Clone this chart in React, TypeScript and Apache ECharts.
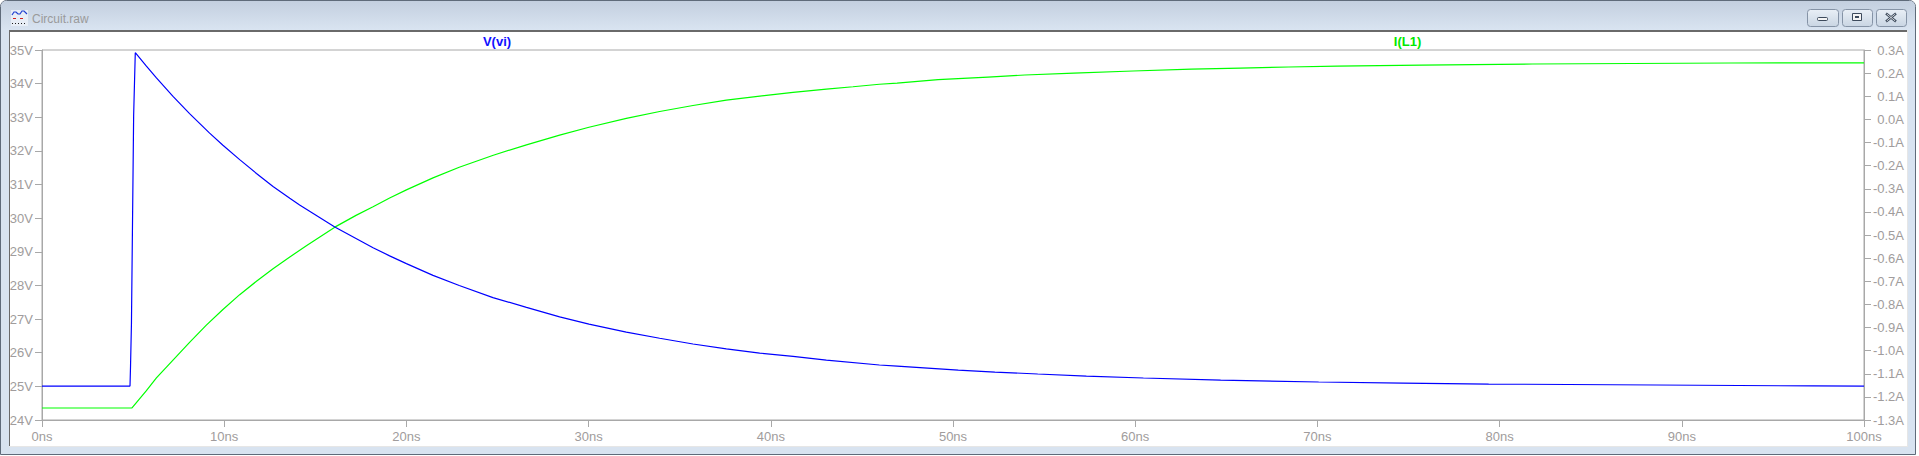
import React, { useEffect, useRef } from "react";
import * as echarts from "echarts";

// ---- data (time in ns) ----
const windowTitle = "Circuit.raw";
const seriesNames = ["V(vi)", "I(L1)"];

const xRange = [0, 100];
const xInterval = 10;
const leftRange = [24, 35];
const leftInterval = 1;
const rightRange = [-1.3, 0.3];
const rightInterval = 0.1;

const vTime = [
  0, 4.83, 4.86, 4.91, 4.97, 5.03, 5.09, 5.12, 5.73, 6.28, 7.19, 8.1, 9.2, 9.93,
  10.85, 11.77, 12.68, 13.6, 14.14, 16.07, 17.26, 18.17, 19.08, 20.0, 21.46,
  22.9, 24.75, 26.59, 28.41, 30.02, 32.07, 33.9, 35.73, 37.56, 39.39, 41.22,
  43.05, 45.96, 46.94, 48.61, 50.29, 52.3, 54.65, 57.32, 60.45, 64.69, 70.07,
  74.7, 79.4, 88.6, 97.2, 100.0,
];
const vValues = [
  25.01, 25.01, 25.62, 26.88, 29.98, 33.06, 34.3, 34.92, 34.52, 34.17, 33.62,
  33.11, 32.53, 32.17, 31.74, 31.33, 30.94, 30.59, 30.39, 29.74, 29.39, 29.12,
  28.88, 28.65, 28.3, 28.0, 27.64, 27.35, 27.065, 26.85, 26.615, 26.43, 26.26,
  26.115, 25.99, 25.89, 25.78, 25.635, 25.604, 25.545, 25.485, 25.426, 25.367,
  25.307, 25.248, 25.188, 25.129, 25.099, 25.069, 25.04, 25.012, 25.005,
];

const iTime = [
  0, 4.94, 5.73, 6.28, 7.19, 8.1, 9.02, 9.93, 10.85, 11.77, 12.68, 13.6, 14.51,
  16.07, 17.26, 18.17, 19.08, 20.0, 21.46, 22.9, 24.77, 26.59, 28.41, 30.02,
  32.07, 33.9, 35.73, 37.56, 40.0, 41.22, 43.05, 44.51, 45.96, 46.93, 49.18,
  51.92, 53.94, 56.63, 59.88, 63.08, 65.77, 68.43, 71.08, 75.7, 81.8, 92.7,
  100.0,
];
const iValues = [
  -1.248, -1.248, -1.173, -1.118, -1.041, -0.964, -0.89, -0.822, -0.758, -0.7,
  -0.646, -0.595, -0.547, -0.466, -0.414, -0.378, -0.34, -0.305, -0.253, -0.207,
  -0.155, -0.11, -0.068, -0.034, 0.004, 0.034, 0.06, 0.083, 0.106, 0.117,
  0.131, 0.141, 0.152, 0.157, 0.1716, 0.1831, 0.1918, 0.2004, 0.2091, 0.2177,
  0.222, 0.2264, 0.2307, 0.235, 0.2394, 0.2437, 0.2445,
];

const AXIS_GRAY = "#a8a8a8";
const LABEL_GRAY = "#a09c9c";
const FONT = "Arial, 'Liberation Sans', sans-serif";

export default function App() {
  const ref = useRef<HTMLDivElement | null>(null);

  useEffect(() => {
    if (!ref.current) return;
    const chart = echarts.init(ref.current, undefined, { renderer: "svg" });

    const vData = vTime.map((t, i) => [t, vValues[i]]);
    const iData = iTime.map((t, i) => [t, iValues[i]]);

    const chrome: any[] = [
      // window frame
      {
        type: "rect",
        z: -10,
        shape: { x: 0.5, y: 0.5, width: 1915, height: 454, r: [6, 6, 0, 0] },
        style: { fill: "#d8e3f0", stroke: "#5f6b7a", lineWidth: 1 },
      },
      // title bar gradient
      {
        type: "rect",
        z: -9,
        shape: { x: 1, y: 1, width: 1914, height: 29, r: [5, 5, 0, 0] },
        style: {
          fill: new echarts.graphic.LinearGradient(0, 0, 0, 1, [
            { offset: 0, color: "#c3cfdf" },
            { offset: 1, color: "#d9e4f1" },
          ]),
        },
      },
      // sunken client area
      {
        type: "rect",
        z: -9,
        shape: { x: 9, y: 30, width: 1899, height: 417 },
        style: { fill: "#e6e6e6" },
      },
      {
        type: "rect",
        z: -8,
        shape: { x: 9, y: 30, width: 1898, height: 416 },
        style: { fill: "#6a6a6a" },
      },
      {
        type: "rect",
        z: -7,
        shape: { x: 10, y: 32, width: 1897, height: 414 },
        style: { fill: "#ffffff" },
      },
      // icon
      {
        type: "rect",
        z: -5,
        shape: { x: 11, y: 10, width: 17, height: 16 },
        style: { fill: "#e8eef6" },
      },
      {
        type: "polyline",
        z: -4,
        shape: {
          points: [
            [12, 15], [14, 12], [16, 12], [18, 14], [20, 14], [22, 11], [24, 11], [27, 14],
          ],
        },
        style: { stroke: "#1f3fd0", lineWidth: 1.2, fill: "none" },
      },
      {
        type: "line",
        z: -4,
        shape: { x1: 13, y1: 18.5, x2: 16, y2: 18.5 },
        style: { stroke: "#d02020", lineWidth: 1 },
      },
      {
        type: "line",
        z: -4,
        shape: { x1: 20, y1: 18.5, x2: 23, y2: 18.5 },
        style: { stroke: "#d02020", lineWidth: 1 },
      },
      {
        type: "line",
        z: -4,
        shape: { x1: 12, y1: 23.5, x2: 27, y2: 23.5 },
        style: { stroke: "#202020", lineWidth: 1, lineDash: [1, 2] },
      },
      // title text
      {
        type: "text",
        z: 5,
        style: {
          text: windowTitle,
          x: 32,
          y: 18.5,
          verticalAlign: "middle",
          align: "left",
          fill: "#9a9a9a",
          font: "12px " + FONT,
        },
      },
    ];

    const buttons = [
      { x: 1807, w: 31 },
      { x: 1842, w: 30 },
      { x: 1876, w: 30 },
    ];
    buttons.forEach((b) => {
      chrome.push({
        type: "rect",
        z: -3,
        shape: { x: b.x + 0.5, y: 9.5, width: b.w, height: 17, r: 3 },
        style: {
          fill: new echarts.graphic.LinearGradient(0, 0, 0, 1, [
            { offset: 0, color: "#e9eff6" },
            { offset: 1, color: "#c9d5e3" },
          ]),
          stroke: "#8593a6",
          lineWidth: 1,
        },
      });
    });
    // minimize glyph
    chrome.push({
      type: "rect",
      z: -2,
      shape: { x: 1817.5, y: 17.5, width: 10, height: 3, r: 1 },
      style: { fill: "#f4f4f4", stroke: "#3d4a5c", lineWidth: 1 },
    });
    // maximize glyph
    chrome.push({
      type: "rect",
      z: -2,
      shape: { x: 1852.5, y: 13.5, width: 9, height: 7 },
      style: { fill: "#f4f4f4", stroke: "#3d4a5c", lineWidth: 1 },
    });
    chrome.push({
      type: "rect",
      z: -1,
      shape: { x: 1855, y: 16, width: 4, height: 2 },
      style: { fill: "#3d4a5c" },
    });
    // close glyph
    chrome.push({
      type: "line",
      z: -2,
      shape: { x1: 1886, y1: 13.5, x2: 1896, y2: 21.5 },
      style: { stroke: "#3d4a5c", lineWidth: 2.4 },
    });
    chrome.push({
      type: "line",
      z: -2,
      shape: { x1: 1896, y1: 13.5, x2: 1886, y2: 21.5 },
      style: { stroke: "#3d4a5c", lineWidth: 2.4 },
    });
    chrome.push({
      type: "line",
      z: -1,
      shape: { x1: 1886.8, y1: 14.1, x2: 1895.2, y2: 20.9 },
      style: { stroke: "#f2f2f2", lineWidth: 0.8 },
    });
    chrome.push({
      type: "line",
      z: -1,
      shape: { x1: 1895.2, y1: 14.1, x2: 1886.8, y2: 20.9 },
      style: { stroke: "#f2f2f2", lineWidth: 0.8 },
    });
    // trace names
    chrome.push({
      type: "text",
      z: 5,
      style: {
        text: seriesNames[0],
        x: 497,
        y: 41,
        align: "center",
        verticalAlign: "middle",
        fill: "#1010ff",
        font: "bold 13px " + FONT,
      },
    });
    chrome.push({
      type: "text",
      z: 5,
      style: {
        text: seriesNames[1],
        x: 1407.5,
        y: 41,
        align: "center",
        verticalAlign: "middle",
        fill: "#00e800",
        font: "bold 13px " + FONT,
      },
    });

    const axisCommon = {
      axisLine: { show: true, onZero: false, lineStyle: { color: AXIS_GRAY, width: 1 } },
      axisTick: { show: true, length: 7, lineStyle: { color: AXIS_GRAY, width: 1 } },
      splitLine: { show: false },
    };

    chart.setOption({
      animation: false,
      backgroundColor: "#ffffff",
      graphic: { elements: chrome },
      grid: {
        left: 42,
        top: 50,
        right: 55,
        bottom: 36,
        show: true,
        borderColor: AXIS_GRAY,
        borderWidth: 1,
        backgroundColor: "transparent",
      },
      xAxis: {
        type: "value",
        min: xRange[0],
        max: xRange[1],
        interval: xInterval,
        ...axisCommon,
        axisLabel: {
          formatter: "{value}ns",
          color: LABEL_GRAY,
          fontSize: 13,
          fontFamily: FONT,
          margin: 10,
        },
      },
      yAxis: [
        {
          type: "value",
          position: "left",
          min: leftRange[0],
          max: leftRange[1],
          interval: leftInterval,
          ...axisCommon,
          axisLabel: {
            formatter: "{value}V",
            color: LABEL_GRAY,
            fontSize: 13,
            fontFamily: FONT,
            margin: 9,
          },
        },
        {
          type: "value",
          position: "right",
          min: rightRange[0],
          max: rightRange[1],
          interval: rightInterval,
          ...axisCommon,
          axisLabel: {
            formatter: (v: number) => (Math.abs(v) < 1e-9 ? 0 : v).toFixed(1) + "A",
            color: LABEL_GRAY,
            fontSize: 13,
            fontFamily: FONT,
            margin: 40,
            align: "right",
          },
        },
      ],
      series: [
        {
          name: seriesNames[0],
          type: "line",
          yAxisIndex: 0,
          data: vData,
          showSymbol: false,
          silent: true,
          lineStyle: { color: "#0000ff", width: 1.2 },
          z: 3,
        },
        {
          name: seriesNames[1],
          type: "line",
          yAxisIndex: 1,
          data: iData,
          showSymbol: false,
          silent: true,
          lineStyle: { color: "#00ff00", width: 1.2 },
          z: 2,
        },
      ],
    });

    return () => {
      chart.dispose();
    };
  }, []);

  return (
    <div
      ref={ref}
      style={{ position: "fixed", left: 0, top: 0, width: 1919, height: 456 }}
    />
  );
}
